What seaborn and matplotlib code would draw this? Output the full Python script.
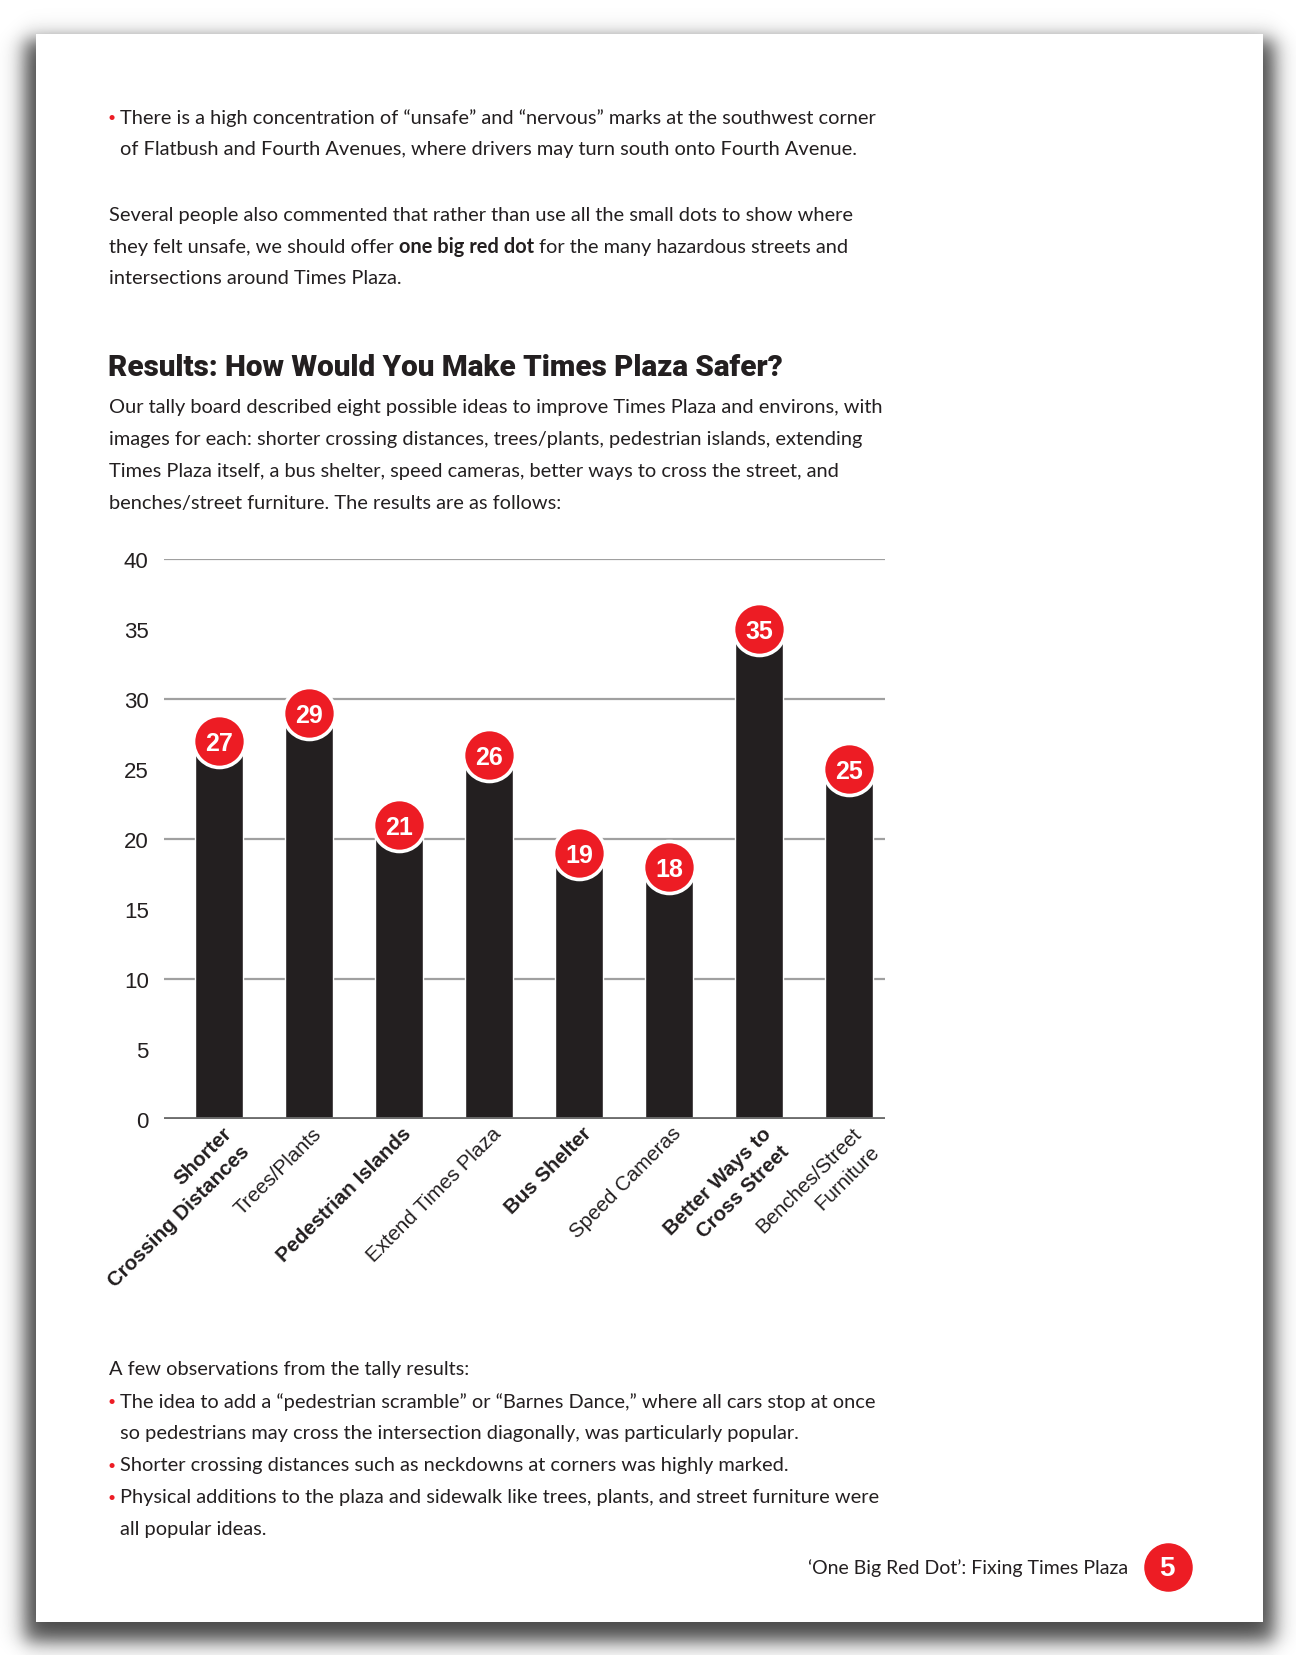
import numpy as np
import pandas as pd
import matplotlib
matplotlib.use("Agg")
import matplotlib.pyplot as plt
import seaborn as sns

# dane wykresu
categories = ["Shorter\nCrossing Distances", "Trees/Plants", "Pedestrian Islands",
              "Extend Times Plaza", "Bus Shelter", "Speed Cameras",
              "Better Ways to\nCross Street", "Benches/Street\nFurniture"]
votes = [27, 29, 21, 26, 19, 18, 35, 25]
bold_label = [True, False, True, False, True, False, True, False]
y_ticks = [0, 5, 10, 15, 20, 25, 30, 35, 40]
grid_levels = [10, 20, 30, 40]

# teksty strony
top_bullet = ["There is a high concentration of \u201cunsafe\u201d and \u201cnervous\u201d marks at the southwest corner",
              "of Flatbush and Fourth Avenues, where drivers may turn south onto Fourth Avenue."]
para1 = ["Several people also commented that rather than use all the small dots to show where",
         ["they felt unsafe, we should offer", "one big red dot", "for the many hazardous streets and"],
         "intersections around Times Plaza."]
heading = "Results: How Would You Make Times Plaza Safer?"
para2 = ["Our tally board described eight possible ideas to improve Times Plaza and environs, with",
         "images for each: shorter crossing distances, trees/plants, pedestrian islands, extending",
         "Times Plaza itself, a bus shelter, speed cameras, better ways to cross the street, and",
         "benches/street furniture. The results are as follows:"]
obs_intro = "A few observations from the tally results:"
obs_bullets = [["The idea to add a \u201cpedestrian scramble\u201d or \u201cBarnes Dance,\u201d where all cars stop at once",
                "so pedestrians may cross the intersection diagonally, was particularly popular."],
               ["Shorter crossing distances such as neckdowns at corners was highly marked."],
               ["Physical additions to the plaza and sidewalk like trees, plants, and street furniture were",
                "all popular ideas."]]
footer = "\u2018One Big Red Dot\u2019: Fixing Times Plaza"
page_number = "5"

RED = "#ed1c24"
INK = "#231f20"
W, H = 1296, 1656
BODY = ["Lato", "DejaVu Sans"]
BODY_SIZE = 14.45

sns.set_theme(style="white")
plt.rcParams['font.family'] = ["Liberation Sans", "DejaVu Sans"]

fig = plt.figure(figsize=(W / 100, H / 100), dpi=100)


def px(x, y):
    return x / W, 1 - y / H


# tlo: strona z cieniem
xs = np.arange(W)
ys = np.arange(H)


def soft(a, lo, hi, s):
    return 1 / (1 + np.exp(-(a - lo) / s)) / (1 + np.exp(-(hi - a) / s))


shadow = 0.72 * np.outer(soft(ys, 40, 1642, 6), soft(xs, 24, 1274, 6))
bg = 1 - shadow
bg[35:1623, 36:1263] = 1.0
ax_bg = fig.add_axes([0, 0, 1, 1], zorder=-5)
ax_bg.imshow(bg, cmap="gray", vmin=0, vmax=1, aspect="auto", interpolation="bilinear")
ax_bg.set_axis_off()


def body_line(x, y, s, **kw):
    return fig.text(*px(x, y), s, family=BODY, fontsize=BODY_SIZE, color=INK,
                    va="center", ha="left", **kw)


def bullet(y):
    fig.text(*px(112, y), "\u2022", family=BODY, fontsize=10, color=RED, va="center", ha="center")


# gorny punkt
bullet(118)
body_line(120, 118, top_bullet[0])
body_line(120, 150, top_bullet[1])

# akapit z pogrubieniem
body_line(109, 215, para1[0])
renderer = fig.canvas.get_renderer()
t1 = body_line(109, 247, para1[1][0])
x1 = t1.get_window_extent(renderer).x1 + 5
t2 = fig.text(x1 / W, 1 - 247 / H, para1[1][1], family=BODY, fontsize=BODY_SIZE,
              fontweight="bold", color=INK, va="center", ha="left")
x2 = t2.get_window_extent(renderer).x1 + 5
fig.text(x2 / W, 1 - 247 / H, para1[1][2], family=BODY, fontsize=BODY_SIZE,
         color=INK, va="center", ha="left")
body_line(109, 279, para1[2])

# naglowek
fig.text(*px(108, 368), heading, family=["Roboto", "DejaVu Sans"],
         fontsize=21.3, fontweight="black", color=INK, va="center", ha="left")

for i, line in enumerate(para2):
    body_line(109, 408 + 32 * i, line)

# obserwacje
body_line(109, 1370, obs_intro)
y = 1402
for b in obs_bullets:
    bullet(y)
    for line in b:
        body_line(120, y, line)
        y += 32

# stopka
fig.text(*px(1128, 1568), footer, family=BODY, fontsize=14, color=INK,
         va="center", ha="right")
ax_bg.scatter([1167], [1568], s=1150, color=RED, zorder=3)
fig.text(*px(1167, 1569), page_number, fontsize=20, fontweight="bold", color="white",
         va="center", ha="center")

# wykres
df = pd.DataFrame({"idea": categories, "votes": votes})
ax = fig.add_axes([164 / W, 1 - 1120 / H, (885 - 164) / W, 560 / H])
ax.set_facecolor("none")
ax.hlines(grid_levels, -0.61, 7.40, color="#a0a0a0", lw=1.6, zorder=0)
sns.barplot(data=df, x="idea", y="votes", color=INK, saturation=1, width=0.54,
            ax=ax, zorder=2)
ax.axhline(0, color="#6d6d6d", lw=3.5, zorder=3)
ax.scatter(range(len(votes)), votes, s=1400, color=RED, edgecolor="white",
           linewidth=2.6, zorder=4, clip_on=False)
for i, v in enumerate(votes):
    ax.text(i, v, str(v), ha="center", va="center_baseline", color="white",
            fontsize=18, fontweight="bold", zorder=5)

ax.set_xlim(-0.61, 7.40)
ax.set_ylim(0, 40)
ax.set_yticks(y_ticks)
ax.set_yticklabels([str(t) for t in y_ticks], fontsize=16, color=INK)
ax.tick_params(axis="y", length=0, pad=11)
ax.set_xticks([])
ax.set_xlabel("")
ax.set_ylabel("")
sns.despine(ax=ax, left=True, bottom=True)

for i, (lab, b) in enumerate(zip(categories, bold_label)):
    ax.text(i + 0.03, -0.3, lab, rotation=45, rotation_mode="anchor", ha="right",
            va="top", fontsize=14.8, fontweight="bold" if b else "normal",
            color=INK, clip_on=False, linespacing=1.45)

fig.savefig("out.png", dpi=100)
